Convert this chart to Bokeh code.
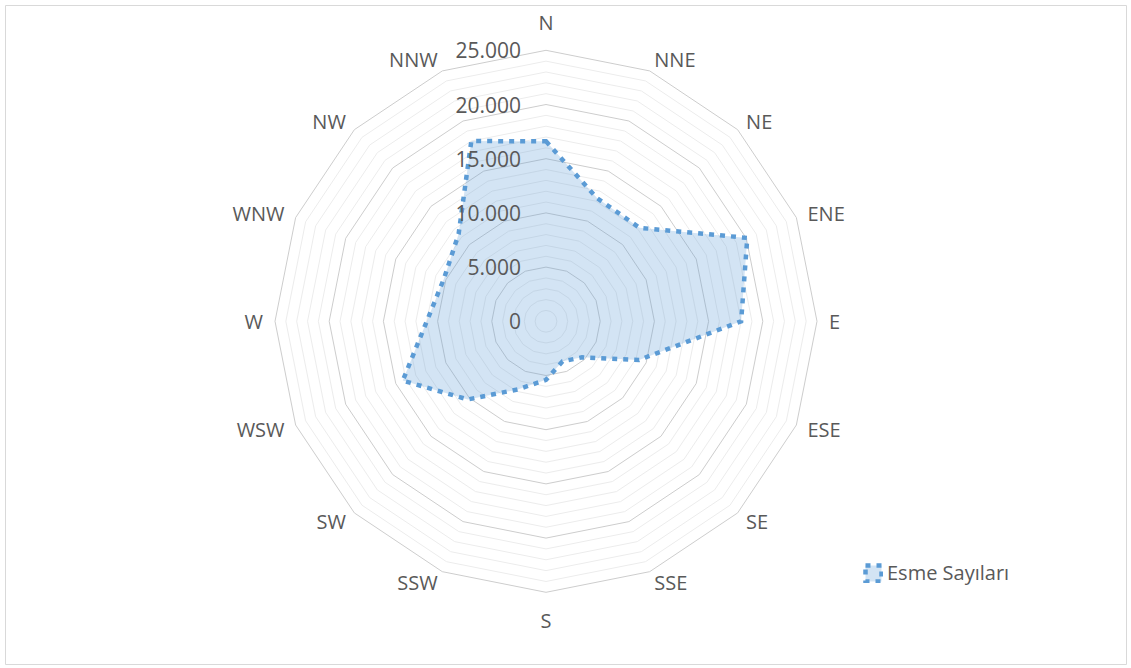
import numpy as np
from bokeh.plotting import figure
from bokeh.models import Range1d, Legend, LegendItem, ColumnDataSource
from bokeh.core.properties import value
from bokeh.embed import file_html
from bokeh.resources import INLINE

# ---- data ----
directions = ["N", "NNE", "NE", "ENE", "E", "ESE", "SE", "SSE",
              "S", "SSW", "SW", "WSW", "W", "WNW", "NW", "NNW"]
esme_sayilari = [16600, 12300, 12200, 20100, 18000, 9300, 4700, 4000,
                 5400, 6800, 10200, 14300, 11000, 10200, 11400, 18000]
tick_values = [0, 5000, 10000, 15000, 20000, 25000]
tick_labels = ["0", "5.000", "10.000", "15.000", "20.000", "25.000"]
minor_step = 1000
axis_max = 25000
series_name = "Esme Sayıları"

# ---- layout ----
W, H = 1127, 665
BL, BT, BR, BB = 5, 5, 1, 1
FW, FH = W - BL - BR, H - BT - BB
radius_px = 271.0
s = radius_px / axis_max          # pixels per data unit
cx, cy = 545.5 - BL, 320.8 - BT   # chart centre in frame pixels

p = figure(width=W, height=H, output_backend="svg", toolbar_location=None,
           x_range=Range1d(-cx / s, (FW - cx) / s),
           y_range=Range1d(-(FH - cy) / s, cy / s),
           x_axis_type=None, y_axis_type=None,
           min_border=0, min_border_left=BL, min_border_right=BR,
           min_border_top=BT, min_border_bottom=BB)
p.outline_line_color = "#d9d9d9"
p.outline_line_width = 1
p.background_fill_color = "white"
p.border_fill_color = "white"

n = len(directions)
theta = np.arange(n) * 2 * np.pi / n
theta_c = np.append(theta, theta[0])

# grid rings
minor_r = [r for r in range(minor_step, axis_max + 1, minor_step) if r % 5000]
major_r = [r for r in tick_values if r > 0]
p.multi_line(xs=[list(r * np.sin(theta_c)) for r in minor_r],
             ys=[list(r * np.cos(theta_c)) for r in minor_r],
             line_color="#ececec", line_width=1)
p.multi_line(xs=[list(r * np.sin(theta_c)) for r in major_r],
             ys=[list(r * np.cos(theta_c)) for r in major_r],
             line_color="#cdcdcd", line_width=1)

# series
vals = np.array(esme_sayilari, dtype=float)
series = p.patch(x=list(vals * np.sin(theta)), y=list(vals * np.cos(theta)),
                 fill_color="#5b9bd5", fill_alpha=0.27,
                 line_color="#5b9bd5", line_width=4.5, line_dash="5 6",
                 line_cap="butt", line_join="miter")

# category labels
lab_x, lab_y, lab_align = [], [], []
for t in theta:
    sn, cs = np.sin(t), np.cos(t)
    r_lab = 299 / s if abs(sn) < 0.05 else 283 / s
    lab_x.append(r_lab * sn)
    lab_y.append(r_lab * cs)
    lab_align.append("left" if sn > 0.05 else ("right" if sn < -0.05 else "center"))
cat_src = ColumnDataSource(dict(x=lab_x, y=lab_y, text=directions, align=lab_align))
p.text(x="x", y="y", text="text", source=cat_src, text_align="align",
       text_baseline="middle", text_font=value("Open Sans"),
       text_font_size="20px", text_color="#595959")

# value axis labels
tick_src = ColumnDataSource(dict(x=[-25 / s] * len(tick_values), y=tick_values,
                                 text=tick_labels))
p.text(x="x", y="y", text="text", source=tick_src, text_align="right",
       text_baseline="middle", text_font=value("Open Sans"),
       text_font_size="21px", text_color="#595959")

legend = Legend(items=[LegendItem(label=series_name, renderers=[series])],
                location=(858, 78), orientation="vertical",
                border_line_color=None, background_fill_alpha=0,
                padding=0, margin=0, spacing=0,
                glyph_width=20, glyph_height=20, label_standoff=4,
                label_text_font="Open Sans", label_text_font_size="20px",
                label_text_color="#595959")
p.add_layout(legend)

open("out.html", "w").write(file_html(p, INLINE))
